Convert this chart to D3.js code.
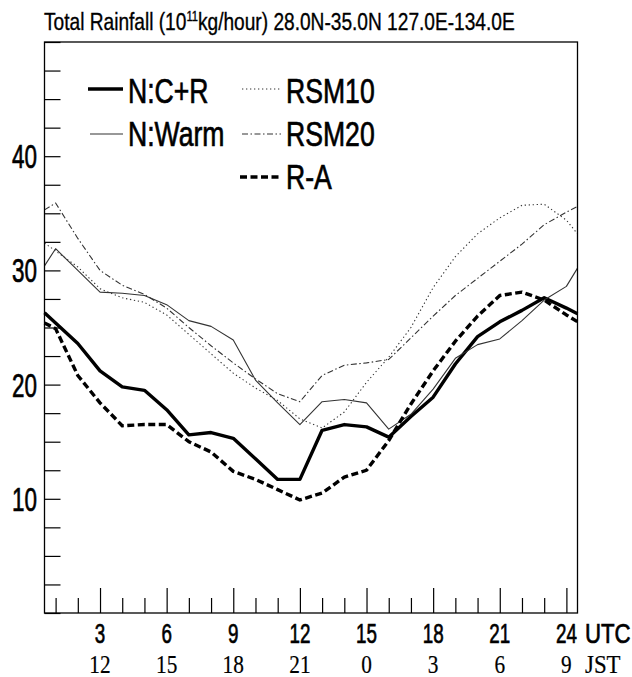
<!DOCTYPE html>
<html><head><meta charset="utf-8">
<script src="https://cdn.jsdelivr.net/npm/d3@7/dist/d3.min.js"></script>
<style>body{margin:0;background:#fff}svg{display:block}</style>
</head><body>
<svg id="c" width="632" height="677"></svg>
<script>
// ---- data ----
const hours = [0.5,1,2,3,4,5,6,7,8,9,10,11,12,13,14,15,16,17,18,19,20,21,22,23,24,24.5];
const ncr   = [26.3,25.4,23.6,21.2,19.8,19.5,17.8,15.6,15.8,15.3,13.5,11.7,11.7,16.0,16.5,16.3,15.4,17.2,18.9,21.8,24.2,25.5,26.5,27.6,26.7,26.2];
const nwarm = [30.4,31.9,30.0,28.1,28.0,27.8,27.0,25.6,25.1,23.9,20.4,18.4,16.5,18.5,18.7,18.4,16.1,17.4,19.6,22.3,23.5,24.0,25.6,27.4,28.6,30.2];
const rsm10 = [32.4,31.7,30.3,28.4,27.6,27.2,26.1,24.4,22.7,21.0,19.7,18.6,17.0,16.2,17.6,20.2,22.4,25.0,28.5,31.2,33.2,34.6,35.7,35.8,34.4,33.2];
const rsm20 = [35.3,35.9,32.8,30.0,28.7,27.9,26.7,25.0,23.4,21.9,20.5,19.2,18.5,20.8,21.7,21.9,22.2,24.1,26.0,27.8,29.3,30.8,32.3,34.0,35.1,35.6];
const ra    = [25.4,24.9,20.8,18.4,16.4,16.5,16.5,15.0,14.1,12.4,11.7,10.8,9.9,10.5,11.9,12.5,15.1,18.3,21.2,23.8,26.0,27.8,28.1,27.4,26.1,25.5];
const seriesNames = ["N:C+R","N:Warm","RSM10","RSM20","R-A"];
const yTickLabels = [10,20,30,40];
const utcTicks = [3,6,9,12,15,18,21,24];
const jstLabels = ["12","15","18","21","0","3","6","9"];

// ---- styles ----
const styles = {
  "N:C+R": {w:3.4, dash:null, c:"#000"},
  "N:Warm":{w:1.1, dash:null, c:"#333"},
  "RSM10": {w:1.1, dash:"1.3,2.7", c:"#333"},
  "RSM20": {w:1.1, dash:"6,2.5,1.5,2.5", c:"#333"},
  "R-A":   {w:3.4, dash:"7,3.5", c:"#000"}
};
const seriesData = {"N:C+R":ncr,"N:Warm":nwarm,"RSM10":rsm10,"RSM20":rsm20,"R-A":ra};

const svg = d3.select("#c");
const L=44.5, R=577.5, T=42, B=613;
const x = d3.scaleLinear().domain([0.5,24.5]).range([L,R]);
const y = d3.scaleLinear().domain([0,50]).range([B,T]);
const SANS = "'Liberation Sans', Arial, Helvetica, sans-serif";
const SERIF = "'Liberation Serif', 'Times New Roman', serif";

function ctext(g, str, tx, ty, size, sx, anchor, family, sw){
  return g.append("text").attr("transform",`translate(${tx},${ty}) scale(${sx},1)`)
    .attr("text-anchor",anchor).attr("font-family",family||SANS)
    .attr("font-size",size).attr("fill","#000")
    .attr("stroke","#000").attr("stroke-width",sw==null?0.7:sw).text(str);
}

// y ticks (inside)
const yAx = svg.append("g").attr("transform",`translate(${L},0)`)
  .call(d3.axisLeft(y).tickValues(d3.range(0,50.01,2.5)).tickSize(-16).tickSizeOuter(0).tickFormat(""));
yAx.select(".domain").remove();
yAx.selectAll("line").attr("stroke","#000").attr("stroke-width",1.2);

// x ticks (inside)
const xAx = svg.append("g").attr("transform",`translate(0,${B})`)
  .call(d3.axisBottom(x).tickValues(d3.range(1,25)).tickSize(0).tickSizeOuter(0).tickFormat(""));
xAx.select(".domain").remove();
xAx.selectAll("line").attr("y2", d => d%3===0 ? -25 : -15).attr("stroke","#000").attr("stroke-width",1.2);

// lines
const line = d3.line().x((d,i)=>x(hours[i])).y(d=>y(d));
seriesNames.forEach(n=>{
  const s = styles[n];
  svg.append("path").datum(seriesData[n]).attr("d",line).attr("fill","none")
    .attr("stroke",s.c).attr("stroke-width",s.w).attr("stroke-dasharray",s.dash)
    .attr("stroke-linejoin","round");
});

// frame
svg.append("rect").attr("x",L).attr("y",T).attr("width",R-L).attr("height",B-T)
  .attr("fill","none").attr("stroke","#000").attr("stroke-width",1.3);

// y labels
const gy = svg.append("g");
yTickLabels.forEach(v=> ctext(gy, String(v), 37, y(v)+12, 34, 0.66, "end"));

// x labels
const gx = svg.append("g");
utcTicks.forEach(v=> ctext(gx, String(v), x(v), 643, 28.5, 0.66, "middle"));
ctext(gx, "UTC", 585, 643, 28.5, 0.78, "start");
utcTicks.forEach((v,i)=> ctext(gx, jstLabels[i], x(v), 673, 26, 0.82, "middle", SERIF, 0.2));
ctext(gx, "JST", 585, 673, 26, 0.88, "start", SERIF, 0.2);

// legend
const lg = svg.append("g");
const legendItems = [
  {n:"N:C+R", x1:88, x2:123, ty:103, tx:128, ly:89},
  {n:"N:Warm",x1:90, x2:123, ty:146, tx:128, ly:134},
  {n:"RSM10", x1:242,x2:281, ty:103, tx:286, ly:89},
  {n:"RSM20", x1:242,x2:281, ty:146, tx:286, ly:134},
  {n:"R-A",   x1:240,x2:281, ty:189, tx:286, ly:177}
];
legendItems.forEach(it=>{
  const s = styles[it.n];
  lg.append("line").attr("x1",it.x1).attr("x2",it.x2).attr("y1",it.ly).attr("y2",it.ly)
    .attr("stroke",s.c).attr("stroke-width",s.w).attr("stroke-dasharray",s.dash);
  ctext(lg, it.n, it.tx, it.ty, 35, 0.76, "start");
});

// title
const tt = svg.append("text").attr("font-family",SANS).attr("font-size",24).attr("fill","#000")
  .attr("stroke","#000").attr("stroke-width",0.35);
tt.append("tspan").text("Total Rainfall (10");
tt.append("tspan").attr("font-size",14).attr("dy",-9).text("11");
tt.append("tspan").attr("dy",9).text("kg/hour)  28.0N-35.0N 127.0E-134.0E");
const w = tt.node().getComputedTextLength();
tt.attr("transform",`translate(44,30) scale(${471/w},1)`);
</script>
</body></html>
